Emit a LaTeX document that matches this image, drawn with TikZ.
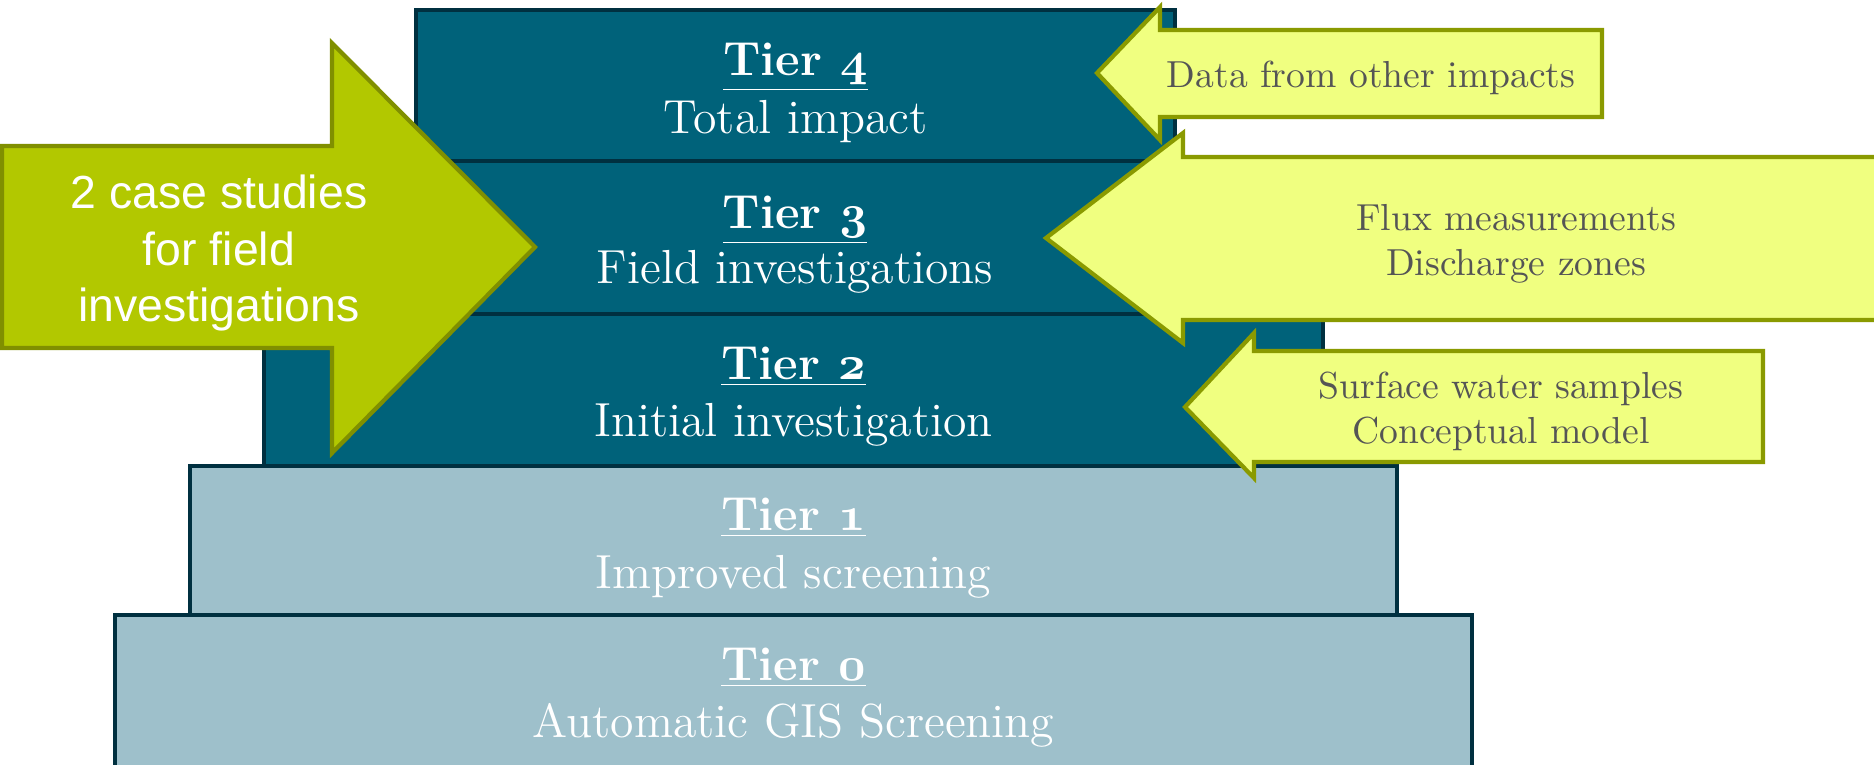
\RequirePackage{fix-cm}
\documentclass[tikz,border=0pt]{standalone}
\usepackage{fontspec}
\newfontfamily\arrowsans{Liberation Sans}
\usepackage{tikz}

\definecolor{tierblue}{RGB}{0,98,122}
\definecolor{tiergrey}{RGB}{158,192,203}
\definecolor{tierline}{RGB}{0,48,64}
\definecolor{casegreen}{RGB}{178,200,0}
\definecolor{caseline}{RGB}{128,143,0}
\definecolor{inputyellow}{RGB}{240,255,128}
\definecolor{inputline}{RGB}{138,154,0}
\definecolor{inputtext}{RGB}{85,85,85}

% old style digit taken from the bold math italic font
\newcommand{\tiertitle}[1]{\textbf{\underline{Tier {\usefont{OML}{cmm}{b}{it}#1}}}}

\begin{document}
\begin{tikzpicture}
\tikzset{tierdark/.style={draw=tierline, fill=tierblue, line width=1.4pt, inner sep=0pt, outer sep=0pt, anchor=north west},
tierlight/.style={tierdark, fill=tiergrey},
tiertext/.style={text=white, anchor=base, font=\fontsize{13.6}{16.4}\selectfont},
inputarrow/.style={draw=inputline, fill=inputyellow, line width=1.2pt, line join=miter},
inputlabel/.style={text=inputtext, anchor=base, font=\fontsize{10.7}{12.8}\selectfont}}
\useasboundingbox (0,0) rectangle (18.74,-7.64);
\clip (0,0) rectangle (18.74,-7.64);
% the five tiers, widest at the bottom
\node[tierlight, minimum width=13.57cm, minimum height=1.52cm] (T0) at (1.15,-6.15) {};
\node[tierlight, minimum width=12.07cm, minimum height=1.49cm] (T1) at (1.90,-4.66) {};
\node[tierdark, minimum width=10.59cm, minimum height=1.52cm] (T2) at (2.64,-3.14) {};
\node[tierdark, minimum width=9.10cm, minimum height=1.53cm] (T3) at (3.40,-1.61) {};
\node[tierdark, minimum width=7.59cm, minimum height=1.51cm] (T4) at (4.16,-0.10) {};
\node[tiertext] (T0a) at ([yshift=-0.65cm]T0.north) {\tiertitle{0}};
\node[tiertext] (T0b) at ([yshift=-1.22cm]T0.north) {Automatic GIS Screening};
\node[tiertext] (T1a) at ([yshift=-0.64cm]T1.north) {\tiertitle{1}};
\node[tiertext] (T1b) at ([yshift=-1.22cm]T1.north) {Improved screening};
\node[tiertext] (T2a) at ([yshift=-0.65cm]T2.north) {\tiertitle{2}};
\node[tiertext] (T2b) at ([yshift=-1.22cm]T2.north) {Initial investigation};
\node[tiertext] (T3a) at ([yshift=-0.67cm]T3.north) {\tiertitle{3}};
\node[tiertext] (T3b) at ([yshift=-1.22cm]T3.north) {Field investigations};
\node[tiertext] (T4a) at ([yshift=-0.65cm]T4.north) {\tiertitle{4}};
\node[tiertext] (T4b) at ([yshift=-1.23cm]T4.north) {Total impact};
% case studies arrow
\filldraw[draw=caseline, fill=casegreen, line width=1.2pt, line join=miter]
  (0.02,-1.46) -- (3.32,-1.46) -- (3.32,-0.43) -- (5.35,-2.47) -- (3.32,-4.53) -- (3.32,-3.48) -- (0.02,-3.48) -- cycle;
\node[text=white, align=center, font=\arrowsans\fontsize{13.2}{16.2}\selectfont] (CS) at (2.19,-2.53)
  {2 case studies\\for field\\investigations};
% input arrows from the right
\filldraw[inputarrow] (10.97,-0.73) -- (11.60,-0.07) -- (11.60,-0.30) -- (16.02,-0.30) -- (16.02,-1.17) -- (11.60,-1.17) -- (11.60,-1.40) -- cycle;
\filldraw[inputarrow] (10.46,-2.38) -- (11.83,-1.33) -- (11.83,-1.57) -- (19.00,-1.57) -- (19.00,-3.20) -- (11.83,-3.20) -- (11.83,-3.43) -- cycle;
\filldraw[inputarrow] (11.85,-4.07) -- (12.54,-3.33) -- (12.54,-3.51) -- (17.63,-3.51) -- (17.63,-4.62) -- (12.54,-4.62) -- (12.54,-4.78) -- cycle;
\node[inputlabel] (IN4) at (13.71,-0.87) {Data from other impacts};
\node[inputlabel] (IN3a) at (15.16,-2.30) {Flux measurements};
\node[inputlabel] (IN3b) at (15.16,-2.75) {Discharge zones};
\node[inputlabel] (IN2a) at (15.01,-3.98) {Surface water samples};
\node[inputlabel] (IN2b) at (15.01,-4.43) {Conceptual model};
\end{tikzpicture}
\end{document}
